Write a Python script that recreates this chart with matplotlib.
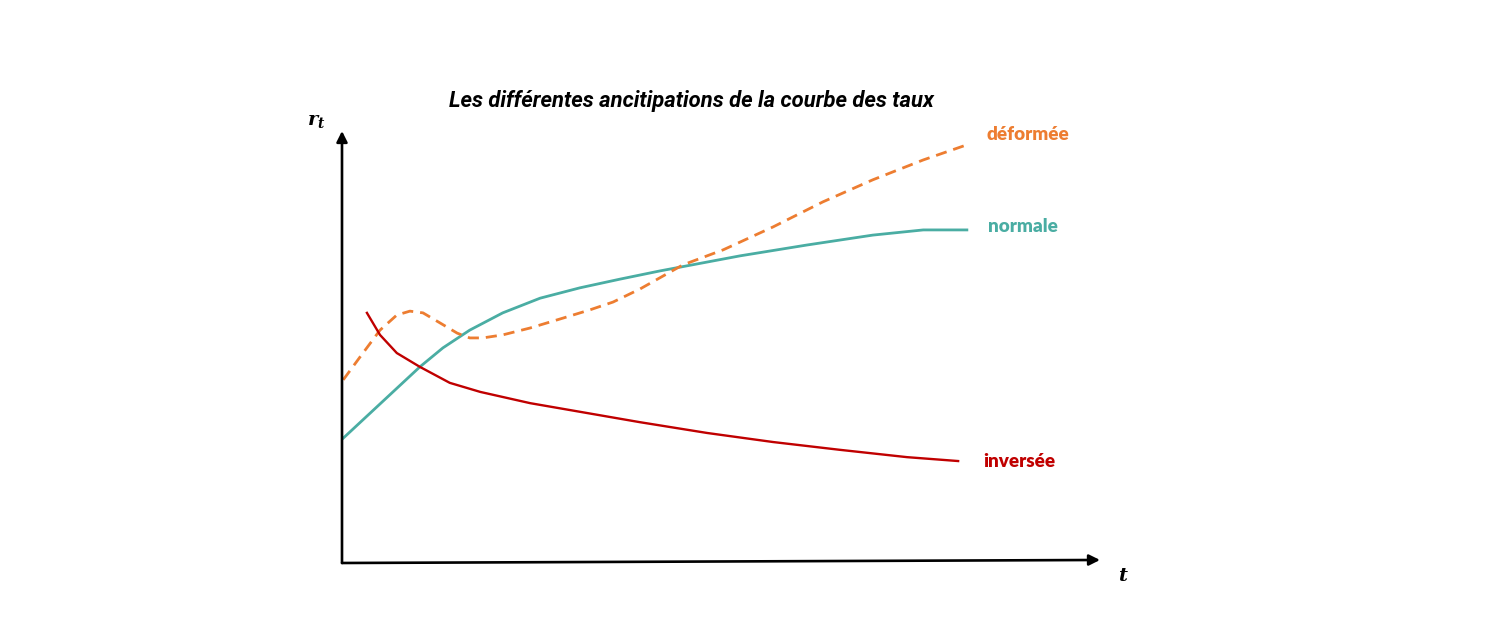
import matplotlib
matplotlib.use('Agg')
import matplotlib.pyplot as plt

# Curves (t in arbitrary units, r in arbitrary units)
t_normale = [0.02, 1.25, 1.62, 2.05, 2.58, 3.18, 3.82, 4.46, 5.10, 6.39, 7.46, 8.52, 9.33, 10.03]
r_normale = [2.89, 4.54, 4.98, 5.39, 5.79, 6.13, 6.37, 6.57, 6.76, 7.11, 7.36, 7.59, 7.71, 7.71]

t_deformee = [0.02, 0.29, 0.61, 0.88, 1.09, 1.30, 1.57, 1.85, 2.05, 2.26, 2.58, 3.02, 3.55,
              3.98, 4.35, 4.78, 5.47, 6.12, 6.92, 7.72, 8.52, 9.33, 10.03]
r_deformee = [4.24, 4.77, 5.39, 5.74, 5.83, 5.79, 5.56, 5.32, 5.21, 5.21, 5.28, 5.44, 5.67,
              5.86, 6.04, 6.34, 6.90, 7.25, 7.78, 8.36, 8.87, 9.33, 9.68]

t_inversee = [0.40, 0.61, 0.88, 1.25, 1.73, 2.22, 3.02, 3.82, 4.78, 5.86, 6.92, 7.99, 9.07, 9.89]
r_inversee = [5.79, 5.28, 4.86, 4.54, 4.17, 3.96, 3.70, 3.50, 3.26, 3.01, 2.80, 2.62, 2.45, 2.36]

col_normale = '#4AADA3'
col_deformee = '#ED7D31'
col_inversee = '#C00000'

plt.rcParams['mathtext.fontset'] = 'custom'
plt.rcParams['mathtext.it'] = 'DejaVu Serif:italic:bold'
plt.rcParams['mathtext.rm'] = 'DejaVu Serif:bold'

fig = plt.figure(figsize=(15, 6.39), dpi=100)
fig.patch.set_facecolor('white')
ax = fig.add_axes([0.228, 0.11894, 0.50533, 0.67606])
ax.set_xlim(0, 12.167)
ax.set_ylim(0, 10)
ax.axis('off')

# the curves
ax.plot(t_normale, r_normale, color=col_normale, lw=2.0, solid_joinstyle='round')
ax.plot(t_deformee, r_deformee, color=col_deformee, lw=2.0, dashes=(4, 2.5))
ax.plot(t_inversee, r_inversee, color=col_inversee, lw=1.7, solid_joinstyle='round')

# axes as arrows
arrow = dict(arrowstyle='-|>', color='black', lw=1.9, mutation_scale=16,
             shrinkA=0, shrinkB=0)
ax.annotate('', xy=(0, 1.0), xytext=(0, 0), xycoords='axes fraction',
            arrowprops=arrow, annotation_clip=False)
ax.annotate('', xy=(1.0, 0.007), xytext=(0, 0), xycoords='axes fraction',
            arrowprops=arrow, annotation_clip=False)

# curve labels
lab = dict(fontsize=13.6, fontweight='heavy', family='Lato', va='center', ha='left')
ax.text(10.34, 9.91, 'déformée', color=col_deformee, **lab)
ax.text(10.37, 7.80, 'normale', color=col_normale, **lab)
ax.text(10.29, 2.34, 'inversée', color=col_inversee, **lab)

# title and axis labels
fig.text(0.4607, 0.842, 'Les différentes ancitipations de la courbe des taux',
         ha='center', va='center', fontsize=15.8, fontweight='bold', fontstyle='italic',
         family='Roboto')
fig.text(0.2107, 0.812, r'$r_t$', ha='center', va='center', fontsize=14)
fig.text(0.7487, 0.0986, r'$t$', ha='center', va='center', fontsize=14)

fig.savefig('out.png', dpi=100, facecolor='white')
